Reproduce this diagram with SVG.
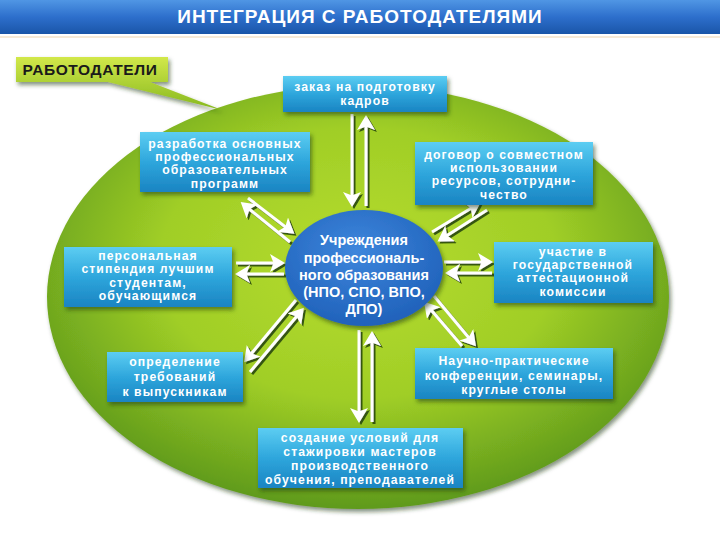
<svg xmlns="http://www.w3.org/2000/svg" width="720" height="540" viewBox="0 0 720 540">
<defs>
<linearGradient id="hdr" x1="0" y1="0" x2="0" y2="1">
<stop offset="0" stop-color="#5096e4"/><stop offset="0.5" stop-color="#2d6fcc"/><stop offset="1" stop-color="#1a55a8"/>
</linearGradient>
<radialGradient id="field" cx="0.5" cy="0.42" r="0.58">
<stop offset="0" stop-color="#b6dc30"/><stop offset="0.55" stop-color="#a0ce26"/><stop offset="1" stop-color="#5f9a1c"/>
</radialGradient>
<linearGradient id="box" x1="0" y1="0" x2="0" y2="1">
<stop offset="0" stop-color="#5ccdf2"/><stop offset="0.5" stop-color="#2ea6dc"/><stop offset="1" stop-color="#1a84c2"/>
</linearGradient>
<radialGradient id="core" cx="0.45" cy="0.35" r="0.7">
<stop offset="0" stop-color="#3d86dc"/><stop offset="1" stop-color="#1e5fb8"/>
</radialGradient>
<linearGradient id="call" x1="0" y1="0" x2="0" y2="1">
<stop offset="0" stop-color="#d2e84a"/><stop offset="1" stop-color="#86b81e"/>
</linearGradient>
<filter id="sh" x="-20%" y="-20%" width="140%" height="150%">
<feDropShadow dx="2" dy="3" stdDeviation="2" flood-color="#1d3a08" flood-opacity="0.55"/>
</filter>
<filter id="ash" x="-30%" y="-30%" width="160%" height="160%">
<feDropShadow dx="2" dy="2" stdDeviation="0.4" flood-color="#2b4a0c" flood-opacity="0.9"/>
</filter>
<marker id="ah" markerWidth="6" markerHeight="6" refX="4" refY="3" orient="auto" markerUnits="strokeWidth">
<path d="M0,0 L5,3 L0,6 L1.2,3 Z" fill="#ffffff"/>
</marker>
<style>
.t{font-family:"Liberation Sans",Arial,sans-serif;font-weight:bold;fill:#ffffff;font-size:12.2px;letter-spacing:1.1px;text-anchor:middle}
.c{font-family:"Liberation Sans",Arial,sans-serif;font-weight:bold;fill:#ffffff;font-size:14.5px;text-anchor:middle}
.b{fill:url(#box);filter:url(#sh)}
.a{stroke:#ffffff;stroke-width:3;fill:none;marker-end:url(#ah)}
</style>
</defs>
<rect width="720" height="540" fill="#ffffff"/>
<g id="header">
<rect x="0" y="0" width="720" height="34" fill="url(#hdr)"/>
<rect x="0" y="36" width="720" height="2" fill="#f6ead8"/>
<text x="360" y="23" font-family="Liberation Sans,Arial,sans-serif" font-weight="bold" font-size="19" letter-spacing="1" fill="#ffffff" text-anchor="middle">ИНТЕГРАЦИЯ С РАБОТОДАТЕЛЯМИ</text>
</g>
<g id="field">
<ellipse cx="358" cy="297" rx="311" ry="212" fill="url(#field)" filter="url(#sh)"/>
</g>
<g id="employers">
<path d="M16,57 H168 V82 H150 L222,110 L108,82 H16 Z" fill="url(#call)" filter="url(#sh)"/>
<text x="90" y="75" font-family="Liberation Sans,Arial,sans-serif" font-weight="bold" font-size="15.5" letter-spacing="0.6" fill="#1a1a1a" text-anchor="middle">РАБОТОДАТЕЛИ</text>
</g>
<g id="connectors" filter="url(#ash)">
<line class="a" x1="352" y1="114" x2="352" y2="204"/>
<line class="a" x1="366" y1="206" x2="366" y2="118"/>
<line class="a" x1="248" y1="198" x2="292" y2="232"/>
<line class="a" x1="290" y1="242" x2="243" y2="204"/>
<line class="a" x1="432" y1="232" x2="478" y2="204"/>
<line class="a" x1="487" y1="210" x2="440" y2="240"/>
<line class="a" x1="236" y1="263" x2="282" y2="263"/>
<line class="a" x1="284" y1="274" x2="238" y2="274"/>
<line class="a" x1="444" y1="262" x2="490" y2="262"/>
<line class="a" x1="492" y1="273" x2="448" y2="273"/>
<line class="a" x1="296" y1="300" x2="246" y2="360"/>
<line class="a" x1="250" y1="372" x2="302" y2="310"/>
<line class="a" x1="434" y1="296" x2="474" y2="344"/>
<line class="a" x1="462" y1="346" x2="426" y2="304"/>
<line class="a" x1="359" y1="330" x2="359" y2="420"/>
<line class="a" x1="372" y1="422" x2="372" y2="334"/>
</g>
<g id="n1">
<rect class="b" x="283" y="76" width="164" height="36"/>
<text class="t" x="365" y="91">заказ на подготовку</text>
<text class="t" x="365" y="105">кадров</text>
</g>
<g id="n2">
<rect class="b" x="140" y="132" width="170" height="60"/>
<text class="t" x="225" y="148">разработка основных</text>
<text class="t" x="225" y="161">профессиональных</text>
<text class="t" x="225" y="174">образовательных</text>
<text class="t" x="225" y="188">программ</text>
</g>
<g id="n3">
<rect class="b" x="415" y="142" width="178" height="63"/>
<text class="t" x="504" y="159">договор о совместном</text>
<text class="t" x="504" y="172">использовании</text>
<text class="t" x="504" y="185">ресурсов, сотрудни-</text>
<text class="t" x="504" y="199">чество</text>
</g>
<g id="n4">
<rect class="b" x="64" y="247" width="168" height="60"/>
<text class="t" x="148" y="260">персональная</text>
<text class="t" x="148" y="273">стипендия лучшим</text>
<text class="t" x="148" y="287">студентам,</text>
<text class="t" x="148" y="300">обучающимся</text>
</g>
<g id="center">
<ellipse cx="364" cy="268" rx="79" ry="58" fill="url(#core)" filter="url(#sh)"/>
<text class="c" x="364" y="245">Учреждения</text>
<text class="c" x="364" y="263">профессиональ-</text>
<text class="c" x="364" y="280">ного образования</text>
<text class="c" x="364" y="297">(НПО, СПО, ВПО,</text>
<text class="c" x="364" y="314">ДПО)</text>
</g>
<g id="n6">
<rect class="b" x="494" y="242" width="159" height="61"/>
<text class="t" x="573" y="256">участие в</text>
<text class="t" x="573" y="269">государственной</text>
<text class="t" x="573" y="282">аттестационной</text>
<text class="t" x="573" y="296">комиссии</text>
</g>
<g id="n7">
<rect class="b" x="107" y="352" width="136" height="50"/>
<text class="t" x="175" y="366">определение</text>
<text class="t" x="175" y="381">требований</text>
<text class="t" x="175" y="396">к выпускникам</text>
</g>
<g id="n8">
<rect class="b" x="415" y="348" width="198" height="51"/>
<text class="t" x="514" y="365">Научно-практические</text>
<text class="t" x="514" y="380">конференции, семинары,</text>
<text class="t" x="514" y="394">круглые столы</text>
</g>
<g id="n9">
<rect class="b" x="258" y="428" width="205" height="60"/>
<text class="t" x="360" y="442">создание условий для</text>
<text class="t" x="360" y="456">стажировки мастеров</text>
<text class="t" x="360" y="470">производственного</text>
<text class="t" x="360" y="484">обучения, преподавателей</text>
</g>
</svg>
